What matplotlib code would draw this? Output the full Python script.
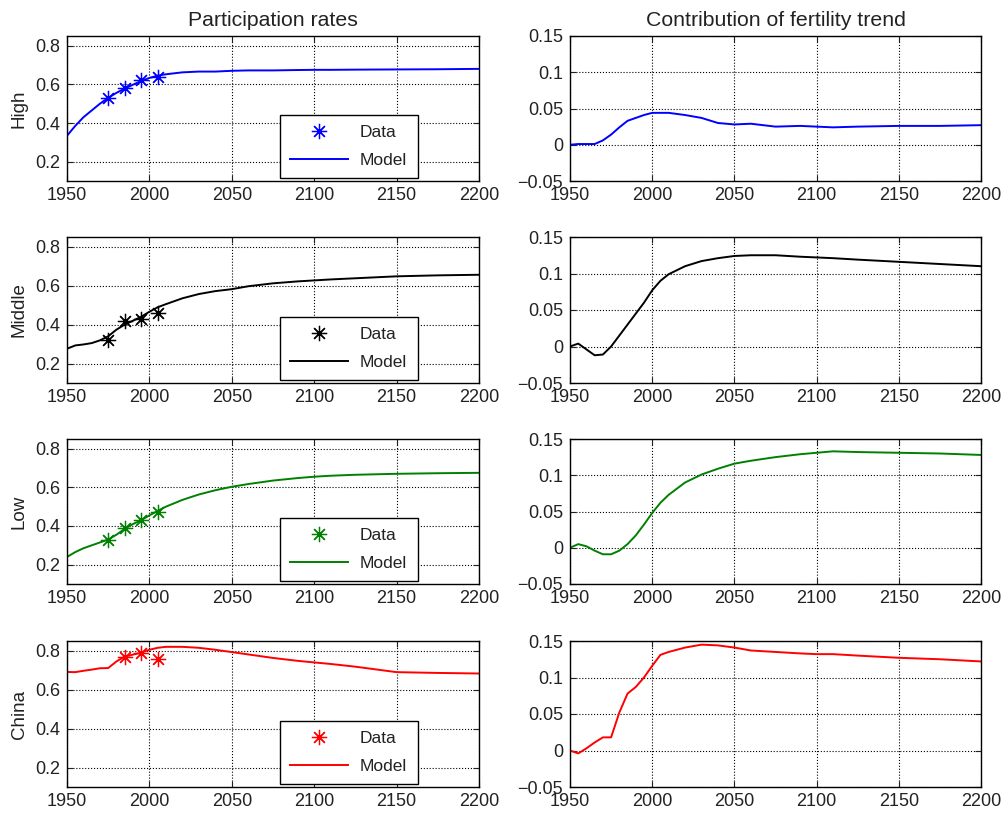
import matplotlib
matplotlib.use("Agg")
import matplotlib.pyplot as plt

plt.rcParams['font.family'] = ['Liberation Sans', 'DejaVu Sans']
plt.rcParams['axes.unicode_minus'] = True

years = [1950, 1955, 1960, 1965, 1970, 1975, 1980, 1985, 1990, 1995, 2000,
         2005, 2010, 2020, 2030, 2040, 2050, 2060, 2075, 2090, 2100, 2110,
         2125, 2150, 2175, 2200]

regions = ['High', 'Middle', 'Low', 'China']
colors = ['#0000ff', '#000000', '#008000', '#ff0000']

# participation rates (model)
part_high = [.334, .385, .43, .465, .50, .53, .556, .578, .598, .617, .633,
             .645, .652, .662, .666, .666, .670, .672, .672, .674, .675, .675,
             .676, .677, .678, .68]
part_middle = [.276, .293, .298, .305, .319, .34, .374, .40, .42, .44, .466,
               .489, .505, .535, .557, .572, .582, .597, .612, .622, .627,
               .632, .638, .648, .653, .656]
part_low = [.24, .265, .285, .30, .315, .33, .355, .385, .41, .43, .455,
            .478, .50, .535, .563, .585, .603, .617, .635, .648, .655, .66,
            .665, .67, .673, .675]
part_china = [.691, .69, .697, .703, .71, .711, .745, .77, .78, .79, .805,
              .815, .82, .82, .815, .805, .793, .781, .763, .748, .74, .732,
              .718, .69, .686, .683]

# participation rates (data)
data_years = [[1975, 1985, 1995, 2005], [1975, 1985, 1995, 2005],
              [1975, 1985, 1995, 2005], [1985, 1995, 2005]]
data_high = [0.53, 0.58, 0.62, 0.64]
data_middle = [0.32, 0.42, 0.43, 0.46]
data_low = [0.33, 0.39, 0.43, 0.47]
data_china = [0.77, 0.79, 0.76]

# contribution of fertility trend
contr_high = [0, .001, .001, .001, .006, .014, .024, .033, .037, .041, .044,
              .044, .044, .041, .037, .030, .028, .029, .025, .026, .025,
              .024, .025, .026, .026, .027]
contr_middle = [0, .004, -.004, -.012, -.011, 0, .015, .03, .045, .06, .077,
                .09, .099, .11, .117, .121, .124, .125, .125, .123, .122,
                .121, .119, .116, .113, .11]
contr_low = [0, .005, .002, -.004, -.009, -.009, -.004, .005, .017, .032,
             .048, .062, .073, .09, .101, .109, .116, .12, .125, .129, .131,
             .133, .132, .131, .13, .128]
contr_china = [0, -.004, .003, .011, .018, .018, .052, .078, .087, .1, .116,
               .131, .135, .141, .145, .144, .141, .137, .135, .133, .132,
               .132, .13, .127, .125, .122]

part = [part_high, part_middle, part_low, part_china]
data = [data_high, data_middle, data_low, data_china]
contr = [contr_high, contr_middle, contr_low, contr_china]

fig = plt.figure(figsize=(10.01, 8.14), dpi=100)

W, H = 1001, 814
rows = [(36, 181), (237, 383), (439, 584), (641, 787)]
left_x, right_x = 67, 570
ax_w = 412
txt = '#222222'


def style_axis(ax):
    ax.set_xlim(1950, 2200)
    ax.set_xticks(range(1950, 2201, 50))
    ax.grid(True, linestyle=':', color='black', linewidth=0.8)
    ax.tick_params(direction='in', top=True, right=True, labelsize=13,
                   length=4, colors=txt, labelcolor=txt)
    ax.tick_params(axis='x', pad=4)
    ax.tick_params(axis='y', pad=5)
    for s in ax.spines.values():
        s.set_linewidth(1.0)


for i, (top, bot) in enumerate(rows):
    b = 1 - bot / H
    h = (bot - top) / H
    c = colors[i]

    ax = fig.add_axes([left_x / W, b, ax_w / W, h])
    ax.plot(data_years[i], data[i], linestyle='none', marker=(8, 2, 0),
            markersize=11, markeredgewidth=0.9, color=c, label='Data')
    ax.plot(years, part[i], color=c, linewidth=1.4, label='Model')
    ax.set_ylim(0.1, 0.85)
    ax.set_yticks([0.2, 0.4, 0.6, 0.8])
    ax.set_yticklabels(['0.2', '0.4', '0.6', '0.8'])
    style_axis(ax)
    ax.set_ylabel(regions[i], fontsize=13.5, color=txt, labelpad=5)
    leg = ax.legend(loc='lower left', bbox_to_anchor=(0.517, 0.02),
                    borderaxespad=0, fontsize=12.5, fancybox=False,
                    edgecolor='black', framealpha=1, numpoints=1,
                    handlelength=3.3, handletextpad=0.7, labelspacing=0.7,
                    borderpad=0.6)
    leg.get_frame().set_linewidth(1.0)
    for t in leg.get_texts():
        t.set_color(txt)
    if i == 0:
        ax.set_title('Participation rates', fontsize=15.3, pad=7, color=txt)

    ax2 = fig.add_axes([right_x / W, b, 411 / W, h])
    ax2.plot(years, contr[i], color=c, linewidth=1.4)
    ax2.set_ylim(-0.05, 0.15)
    ax2.set_yticks([-0.05, 0, 0.05, 0.1, 0.15])
    ax2.set_yticklabels(['\u22120.05', '0', '0.05', '0.1', '0.15'])
    style_axis(ax2)
    if i == 0:
        ax2.set_title('Contribution of fertility trend', fontsize=15.3,
                      pad=7, color=txt)

fig.savefig('out.png', dpi=100)
